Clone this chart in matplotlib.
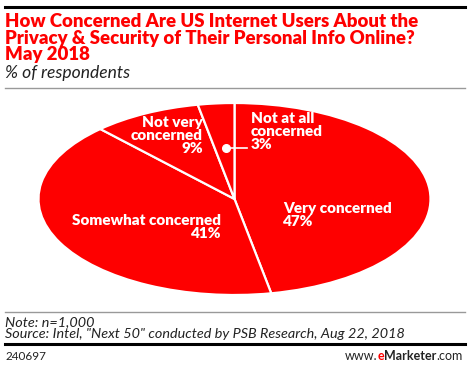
import matplotlib
matplotlib.use("Agg")
import matplotlib.pyplot as plt
from matplotlib.lines import Line2D

# data
labels = ["Very concerned", "Somewhat concerned", "Not very\nconcerned", "Not at all\nconcerned"]
shares = [47, 41, 9, 3]

title = ("How Concerned Are US Internet Users About the\n"
         "Privacy & Security of Their Personal Info Online?\n"
         "May 2018")
subtitle = "% of respondents"
note = "Note: n=1,000"
source = 'Source: Intel, "Next 50" conducted by PSB Research, Aug 22, 2018'
chart_id = "240697"

RED = "#fe0000"
W, H = 470, 368

plt.rcParams["font.family"] = ["Lato", "DejaVu Sans"]

fig = plt.figure(figsize=(W / 100, H / 100), dpi=100)


def fx(x):
    return x / W


def fy(y):
    return 1 - y / H


# header / footer rules
def hline(y, lw, color):
    fig.add_artist(Line2D([fx(5), fx(465)], [fy(y), fy(y)], lw=lw, color=color,
                          transform=fig.transFigure))


hline(7, 2.2, "black")
hline(88, 1.0, "#999999")
hline(312, 1.0, "#999999")
hline(344, 2.2, "black")

fig.text(fx(5), fy(13), title, color=RED, fontsize=13.4, fontweight="heavy",
         va="top", ha="left", linespacing=0.98)
fig.text(fx(5), fy(65), subtitle, color="#222222", fontsize=12.6, style="italic",
         va="top", ha="left")
fig.text(fx(5), fy(316), note + "\n" + source, color="#222222", fontsize=10.4,
         style="italic", va="top", ha="left", linespacing=1.05)
fig.text(fx(5), fy(360), chart_id, color="#222222", fontsize=8.5, va="baseline")


# eMarketer logo text, laid out right to left
def logo_piece(right_px, s, **kw):
    t = fig.text(right_px / W, fy(360), s, fontsize=9, va="baseline", ha="right", **kw)
    fig.canvas.draw()
    return t.get_window_extent().x0


x = 463
x = logo_piece(x, ".com", color="#222222")
x = logo_piece(x, "Marketer", color="#222222", fontweight="bold")
x = logo_piece(x, "e", color=RED, fontweight="bold")
x = logo_piece(x, "www.", color="#222222")

# pie (stretched into an ellipse)
cx, cy, a, b = 234.5, 199, 196, 96
ax = fig.add_axes([fx(cx - a), fy(cy + b), 2 * a / W, 2 * b / H])
ax.pie(shares, startangle=90, counterclock=False, colors=[RED] * len(shares),
       wedgeprops=dict(edgecolor="white", linewidth=1.6))
ax.set_aspect("auto")
ax.set_xlim(-1, 1)
ax.set_ylim(-1, 1)
ax.axis("off")


def dx(x):
    return (x - cx) / a


def dy(y):
    return (cy - y) / b


lab_style = dict(color="white", fontsize=11, fontweight="heavy", linespacing=1.0)
ax.text(dx(283), dy(202), f"{labels[0]}\n{shares[0]}%", ha="left", va="top", **lab_style)
ax.text(dx(221), dy(214), f"{labels[1]}\n{shares[1]}%", ha="right", va="top",
        multialignment="right", **lab_style)
ax.text(dx(203), dy(116), f"{labels[2]}\n{shares[2]}%", ha="right", va="top",
        multialignment="right", **lab_style)
ax.text(dx(251), dy(112), f"{labels[3]}\n{shares[3]}%", ha="left", va="top", **lab_style)
ax.plot([dx(226), dx(247)], [dy(148), dy(148)], color="white", lw=1.2)
ax.plot([dx(226)], [dy(148)], "o", color="white", ms=5.5)

fig.savefig("out.png", dpi=100)
